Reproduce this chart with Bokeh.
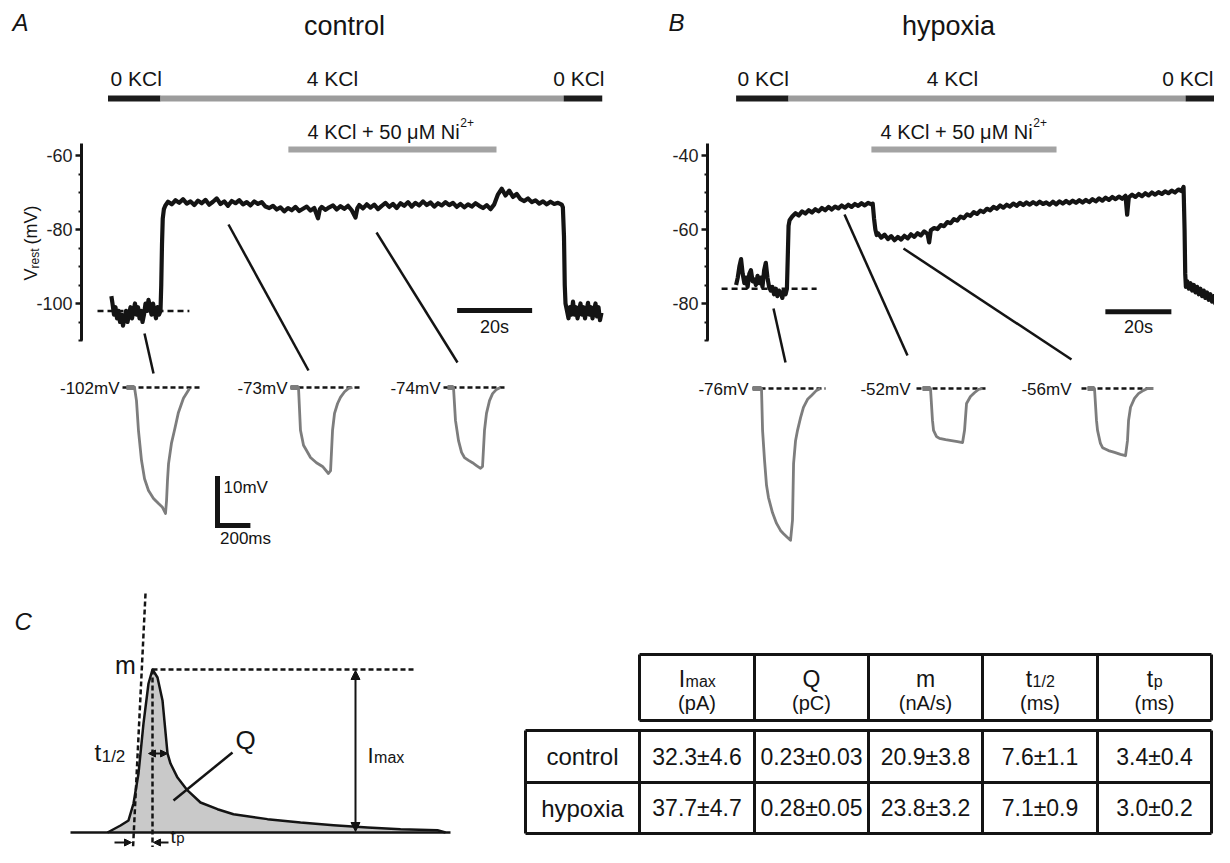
import math
from bokeh.plotting import figure
from bokeh.models import Range1d, LinearAxis, FixedTicker, Arrow, NormalHead
from bokeh.core.properties import value
from bokeh.embed import file_html
from bokeh.resources import INLINE

# ======================= DATA =======================
panel_titles = ["control", "hypoxia"]
panel_letters = ["A", "B", "C"]
solution_labels = ["0 KCl", "4 KCl", "0 KCl"]
nickel_label = "4 KCl + 50 \u03bcM Ni"
nickel_sup = "2+"

# solution change times (s): start, 0->4 KCl, 4->0 KCl, end
sol_A = [0.0, 14.0, 121.5, 131.8]
sol_B = [0.0, 15.9, 136.2, 147.1]
ni_A = [48.1, 103.6]
ni_B = [41.0, 97.1]

yticks_A = [-100, -80, -60]
yminor_A = [-110, -105, -95, -90, -85, -75, -70, -65]
yticks_B = [-80, -60, -40]
yminor_B = [-90, -85, -75, -70, -65, -55, -50, -45]

# resting potential traces (time s, Vrest mV)
traceA = [(0.9, -98), (1.2, -100), (1.6, -103), (2.0, -101), (2.4, -104), (2.8, -102), (3.2, -105),
          (3.6, -103), (4.0, -106), (4.4, -104), (4.8, -102), (5.2, -105), (5.6, -103), (6.0, -101),
          (6.4, -104), (6.8, -102), (7.2, -100), (7.6, -103), (8.0, -101), (8.4, -104), (8.8, -102),
          (9.2, -105), (9.6, -103), (10.0, -100), (10.4, -102), (10.8, -99), (11.2, -101), (11.6, -103),
          (12.0, -100), (12.4, -102), (12.8, -104), (13.2, -101), (13.6, -103), (14.0, -102),
          (14.2, -95), (14.4, -84), (14.6, -77), (14.9, -74.5), (15.3, -73.5),
          (16, -72.5), (17, -73.2), (18, -72.1), (19, -72.8), (20, -71.8), (21, -73.0), (22, -72.4),
          (23, -73.4), (24, -72.2), (25, -72.9), (26, -72.0), (27, -73.3), (28, -72.5), (29, -71.6),
          (30, -73.1), (31, -72.4), (32, -73.6), (33, -72.3), (34, -72.9), (35, -72.1), (36, -73.2),
          (37, -72.6), (38, -73.5), (39, -72.4), (40, -73.1), (41, -72.6), (42, -73.8), (43, -74.2),
          (44, -73.6), (45, -74.6), (46, -74.0), (47, -75.1), (48, -74.2), (49, -74.8), (50, -73.9),
          (51, -75.0), (52, -74.4), (53, -73.8), (54, -74.9), (55, -74.2), (56, -77.0), (56.5, -74.5),
          (57, -73.9), (58, -74.7), (59, -74.0), (60, -73.5), (61, -74.6), (62, -73.7), (63, -74.4),
          (64, -73.6), (65, -74.8), (66, -76.8), (66.5, -74.2), (67, -73.4), (68, -74.3), (69, -73.2),
          (70, -74.1), (71, -73.3), (72, -74.5), (73, -73.6), (74, -72.8), (75, -73.9), (76, -73.1),
          (77, -74.2), (78, -72.9), (79, -73.6), (80, -72.6), (81, -73.8), (82, -72.8), (83, -73.5),
          (84, -72.4), (85, -73.4), (86, -72.7), (87, -73.8), (88, -72.9), (89, -73.5), (90, -72.6),
          (91, -73.4), (92, -72.8), (93, -73.9), (94, -73.1), (95, -74.0), (96, -73.2), (97, -73.8),
          (98, -72.9), (99, -73.6), (100, -74.2), (101, -73.4), (102, -74.5), (103, -73.2),
          (104, -70.5), (105, -69.0), (106, -70.8), (107, -69.5), (108, -71.2), (109, -70.4),
          (110, -71.8), (111, -72.3), (112, -71.6), (113, -72.6), (114, -72.1), (115, -73.0),
          (116, -72.4), (117, -73.2), (118, -72.5), (119, -73.1), (120, -72.8), (121, -73.3),
          (121.3, -74), (121.6, -82), (121.8, -95), (122.0, -100),
          (122.4, -102), (122.8, -104), (123.2, -101), (123.6, -103), (124.0, -99.5), (124.4, -103),
          (124.8, -101), (125.2, -104), (125.6, -102), (126.0, -100), (126.4, -103), (126.8, -101),
          (127.2, -104), (127.6, -102), (128.0, -99.8), (128.4, -103), (128.8, -101), (129.2, -104),
          (129.6, -102), (130.0, -100), (130.4, -103.5), (130.8, -101), (131.2, -104.5), (131.6, -102.5)]

traceB = [(0.0, -75), (0.5, -73), (1.0, -70), (1.5, -68), (2.0, -72), (2.5, -74.5), (3.0, -73),
          (3.5, -75.5), (4.0, -72), (4.5, -71), (5.0, -74), (5.5, -73.5), (6.0, -75), (6.5, -72.5),
          (7.0, -74.5), (7.5, -73), (8.0, -75.5), (8.5, -71), (9.0, -69), (9.5, -73), (10.0, -75.5),
          (10.5, -76.5), (11.0, -75.5), (11.5, -77.5), (12.0, -76), (12.5, -78), (13.0, -76.5),
          (13.5, -77), (14.0, -78.5), (14.5, -76.5), (15.0, -77.5), (15.4, -76),
          (15.7, -66), (15.9, -59), (16.2, -57.5),
          (17, -56.5), (18, -55.6), (19, -56.2), (20, -55.1), (21, -55.7), (22, -54.8), (23, -55.4),
          (24, -54.5), (25, -55.1), (26, -54.2), (27, -54.8), (28, -53.9), (29, -54.6), (30, -53.8),
          (31, -54.3), (32, -53.5), (33, -54.1), (34, -53.3), (35, -53.9), (36, -53.1), (37, -53.6),
          (38, -52.9), (39, -53.5), (40, -52.8), (41, -53.2), (41.4, -53.0),
          (41.8, -57), (42.2, -60), (42.6, -61.5),
          (43, -61.0), (44, -62.2), (45, -61.4), (46, -62.6), (47, -61.8), (48, -62.9), (49, -62.0),
          (50, -62.7), (51, -61.7), (52, -62.4), (53, -61.3), (54, -62.0), (55, -61.0), (56, -61.6),
          (57, -60.5), (58, -61.2), (58.5, -63.5), (59, -60.2), (60, -59.6), (61, -59.9), (62, -58.8),
          (63, -59.1), (64, -58.0), (65, -58.3), (66, -57.2), (67, -57.6), (68, -56.5), (69, -56.9),
          (70, -55.9), (71, -56.3), (72, -55.3), (73, -55.8), (74, -54.9), (75, -55.3), (76, -54.4),
          (77, -54.8), (78, -53.9), (79, -54.4), (80, -53.5), (81, -54.1), (82, -53.3), (83, -53.8),
          (84, -53.0), (85, -53.6), (86, -52.8), (87, -53.4), (88, -52.7), (89, -53.3), (90, -52.6),
          (91, -53.2), (92, -52.5), (93, -53.1), (94, -52.7), (95, -53.3), (96, -52.5), (97, -53.2),
          (98, -52.4), (99, -53.0), (100, -52.3), (101, -52.9), (102, -52.2), (103, -52.8),
          (104, -52.1), (105, -52.7), (106, -52.0), (107, -52.6), (108, -51.8), (109, -52.4),
          (110, -51.6), (111, -52.2), (112, -51.4), (113, -52.0), (114, -51.2), (115, -51.8),
          (116, -51.1), (117, -51.7), (118, -50.9), (118.5, -56.0), (119, -51.3), (120, -50.6),
          (121, -51.2), (122, -50.4), (123, -51.0), (124, -50.2), (125, -50.8), (126, -50.0),
          (127, -50.6), (128, -49.9), (129, -50.4), (130, -49.7), (131, -50.2), (132, -49.5),
          (133, -50.0), (134, -49.2), (135, -49.6), (135.6, -48.5),
          (135.9, -60), (136.1, -72), (136.3, -75.5),
          (136.7, -74), (137.2, -76), (137.7, -74.5), (138.2, -76.5), (138.7, -75), (139.2, -77),
          (139.7, -75.5), (140.2, -77.5), (140.7, -76), (141.2, -78), (141.7, -76.5), (142.2, -78.5),
          (142.7, -77), (143.2, -79), (143.7, -77.5), (144.2, -79.5), (144.7, -78), (145.2, -80),
          (145.6, -79)]

# levels marked by dashed lines on the traces (mV)
baseline_A = -102
baseline_B = -76

# insets: rest potential (mV) and voltage response (ms from pulse onset, deflection mV)
rest_A = [-102, -73, -74]
rest_B = [-76, -52, -56]
insA1 = [(-53, 0), (-26, 0.2), (0, 0), (13, -2.8), (26, -9.1), (46, -15.5), (66, -19.4), (92, -21.9),
         (125, -23.6), (158, -24.7), (184, -25.5), (204, -26.8), (211, -24.0), (217, -19.8),
         (224, -16.2), (243, -11.9), (263, -9.1), (289, -5.3), (322, -2.3), (362, -0.2)]
insA2 = [(-53, 0), (-13, 0.2), (0, 0), (13, -9.1), (33, -12.3), (53, -13.4), (79, -14.9), (118, -16.0),
         (158, -16.8), (197, -18.3), (211, -17.7), (224, -9.1), (237, -5.5), (257, -3.4), (276, -2.1),
         (303, -0.9), (329, -0.2), (355, 0)]
insA3 = [(-39, 0), (-13, 0.2), (0, 0), (13, -7.0), (33, -11.3), (53, -13.8), (72, -14.9), (99, -15.5),
         (125, -16.0), (151, -16.6), (178, -17.2), (191, -16.8), (204, -9.1), (217, -5.5), (237, -2.8),
         (257, -1.3), (283, -0.4), (309, 0)]
insB1 = [(-59, 0), (-20, 0.2), (0, 0), (7, -8.9), (20, -15.3), (33, -20.6), (46, -23.2), (72, -26.4),
         (99, -28.7), (125, -30.2), (145, -30.9), (171, -31.7), (191, -32.3), (204, -28.0), (211, -16.0),
         (224, -11.1), (237, -8.9), (257, -6.2), (276, -4.0), (303, -2.3), (329, -1.5), (362, -0.4),
         (388, 0)]
insB2 = [(-53, 0), (-13, 0.2), (0, 0), (13, -6.8), (20, -8.9), (39, -10.2), (59, -10.6), (99, -10.9),
         (138, -11.1), (178, -11.3), (211, -11.5), (224, -8.9), (237, -3.2), (263, -1.7), (289, -0.9),
         (316, -0.2), (342, 0)]
insB3 = [(-46, 0), (-13, 0.2), (0, 0), (13, -6.8), (20, -8.9), (39, -11.7), (53, -12.6), (92, -13.2),
         (132, -13.6), (171, -14.0), (204, -14.3), (217, -11.1), (224, -6.8), (237, -4.0), (263, -2.1),
         (289, -1.1), (322, -0.4), (349, 0), (388, 0)]
scale_s = 20          # s
scale_mV = 10         # mV
scale_ms = 200        # ms

# panel C schematic current (time units, normalised current)
curve_t = [0, 2.6, 4.2, 5.2, 6.2, 7.2, 8.2, 9.0, 10.0, 11.0, 12.0, 12.6, 14.0, 16.0, 18.6, 22.0,
           25.2, 32.0, 38.6, 45.2, 52.0, 58.6, 66.0, 67.6]
curve_i = [0, 0.043, 0.074, 0.178, 0.362, 0.669, 0.914, 1.0, 0.951, 0.810, 0.485, 0.423, 0.337,
           0.258, 0.184, 0.143, 0.112, 0.082, 0.061, 0.045, 0.031, 0.020, 0.014, 0.0]

# table
row_names = ["control", "hypoxia"]
col_symbols = [("I", "max"), ("Q", ""), ("m", ""), ("t", "1/2"), ("t", "p")]
col_units = ["(pA)", "(pC)", "(nA/s)", "(ms)", "(ms)"]
imax = [32.3, 37.7]
imax_sem = [4.6, 4.7]
charge = [0.23, 0.28]
charge_sem = [0.03, 0.05]
slope = [20.9, 23.8]
slope_sem = [3.8, 3.2]
t_half = [7.6, 7.1]
t_half_sem = [1.1, 0.9]
t_peak = [3.4, 3.0]
t_peak_sem = [0.4, 0.2]
decimals = [1, 2, 1, 1, 1]

# ======================= FIGURE =======================
FONT = "Liberation Sans"
W, H = 1214, 847
INK = "#141414"
GREY_TR = "#7d7d7d"

p = figure(width=W, height=H, output_backend="svg", toolbar_location=None,
           x_range=Range1d(0, W), y_range=Range1d(H, 0),
           x_axis_location=None, y_axis_location=None, min_border=0,
           outline_line_color=None, background_fill_color="white", border_fill_color="white")
p.xgrid.visible = False
p.ygrid.visible = False


def xr(px0, ppu):
    return Range1d((0 - px0) / ppu, (W - px0) / ppu)


def yr(py0, ppu, v0=0.0):
    return Range1d(v0 - (H - py0) / ppu, v0 + py0 / ppu)


INS_PX_MS = 30.4 / 200.0
INS_PX_MV = 47.0 / 10.0
onset_A = [134, 298, 453]
onset_B = [761, 930, 1094]
ins_base_y = [387, 388]

xranges = {"tA": xr(107.5, 3.75), "tB": xr(735.6, 3.3), "sbx": xr(217, INS_PX_MS), "ct": xr(107, 5.0)}
yranges = {"vA": yr(155, 3.7, -60), "vB": yr(155, 3.7, -40), "sby": yr(525, INS_PX_MV, 0),
           "ci": yr(832, 163.0, 0)}
for i in range(3):
    xranges[f"iA{i}x"] = xr(onset_A[i], INS_PX_MS)
    yranges[f"iA{i}y"] = yr(ins_base_y[0], INS_PX_MV, rest_A[i])
    xranges[f"iB{i}x"] = xr(onset_B[i], INS_PX_MS)
    yranges[f"iB{i}y"] = yr(ins_base_y[1], INS_PX_MV, rest_B[i])
p.extra_x_ranges = xranges
p.extra_y_ranges = yranges

AW = {' ': .278, 'K': .667, 'C': .722, 'l': .222, '+': .584, '\u03bc': .576, 'M': .833, 'N': .722,
      'i': .222, 'I': .278, 'm': .833, 'a': .556, 'x': .5, 't': .278, 'p': .556, '/': .278,
      'Q': .778, 'V': .667, 'r': .333, 'e': .556, 's': .5, '(': .333, ')': .333}


def tw(s, size):
    return sum(AW.get(c, 0.556) for c in s) * size


def txt(x, y, s, size, align="center", style="normal", angle=0.0, color=INK, xn="default", yn="default"):
    p.text(x=[x], y=[y], text=[s], text_font=value(FONT), text_font_size=value(f"{size}px"),
           text_align=align, text_baseline="middle", text_font_style=style, angle=angle,
           text_color=color, x_range_name=xn, y_range_name=yn)


def subtext(cx, yc, main, sub, size, subsize, dy, center=True):
    """main text with a smaller sub/superscript; yc is the vertical middle of main text"""
    total = tw(main, size) + tw(sub, subsize)
    x = cx - total / 2 if center else cx
    txt(x, yc, main, size, align="left")
    if sub:
        txt(x + tw(main, size) + 0.5, yc + 0.35 * (size - subsize) + dy, sub, subsize, align="left")


# ---------- panel letters & titles ----------
for s, x, y in zip(panel_letters, [12, 668, 14], [22, 22, 621]):
    txt(x, y, s, 24, align="left", style="italic")
for s, x in zip(panel_titles, [344, 948]):
    txt(x, 25, s, 27)

# ---------- solution bars ----------
for tn, sol, ni, nicx, lab_x, lab_al in [
        ("tA", sol_A, ni_A, 390, [110, 332, 604], ["left", "center", "right"]),
        ("tB", sol_B, ni_B, 963, [737, 952, 1213], ["left", "center", "right"])]:
    cols = ["#1c1c1c", "#9c9c9c", "#1c1c1c"]
    for k in range(3):
        p.segment(x0=[sol[k]], x1=[sol[k + 1]], y0=[98], y1=[98], line_color=cols[k], line_width=6,
                  x_range_name=tn)
        txt(lab_x[k], 78, solution_labels[k], 21, align=lab_al[k])
    p.segment(x0=[ni[0]], x1=[ni[1]], y0=[149], y1=[149], line_color="#a3a3a3", line_width=6,
              x_range_name=tn)
    subtext(nicx, 131, nickel_label, nickel_sup, 20, 12, -12)

# ---------- traces ----------
for tn, vn, tr, base, dash_t in [("tA", "vA", traceA, baseline_A, (-2.8, 21.7)),
                                  ("tB", "vB", traceB, baseline_B, (-4.4, 24.4))]:
    p.line([a for a, b in tr], [b for a, b in tr], line_color=INK, line_width=4.2,
           line_join="round", x_range_name=tn, y_range_name=vn)
    p.segment(x0=[dash_t[0]], x1=[dash_t[1]], y0=[base], y1=[base], line_color=INK, line_width=2.5,
              line_dash="6 4", x_range_name=tn, y_range_name=vn)

# 20 s scale bars
for tn, vn, t0, v0, lx in [("tA", "vA", 93.1, -101.9, 494), ("tB", "vB", 111.9, -82.2, 1138)]:
    p.segment(x0=[t0], x1=[t0 + scale_s], y0=[v0], y1=[v0], line_color=INK, line_width=5,
              x_range_name=tn, y_range_name=vn)
    txt(lx, 326, f"{scale_s}s", 18)

# ---------- y axes ----------
for vn, loc, ticks, minors, bnds in [("vA", 81, yticks_A, yminor_A, (-110, -56.8)),
                                     ("vB", 707, yticks_B, yminor_B, (-90, -36.8))]:
    ax = LinearAxis(y_range_name=vn, fixed_location=loc, bounds=bnds,
                    ticker=FixedTicker(ticks=ticks, minor_ticks=minors),
                    major_label_overrides={t: str(t) for t in ticks},
                    axis_line_width=3, axis_line_color=INK,
                    major_tick_line_width=2.5, major_tick_line_color=INK, major_tick_out=6, major_tick_in=0,
                    minor_tick_line_width=2, minor_tick_line_color=INK, minor_tick_out=3, minor_tick_in=1,
                    major_label_text_font=FONT, major_label_text_font_size="18px",
                    major_label_text_color="#222222", major_label_standoff=3)
    p.add_layout(ax, "left")

# Vrest (mV) label (rotated)
ang = math.pi / 2
txt(30, 280, "V", 18, align="left", angle=ang)
txt(34, 268, "rest", 12, align="left", angle=ang)
txt(30, 244, "(mV)", 18, align="left", angle=ang)

# ---------- connector lines ----------
conn = [((144, 333), (153, 373)), ((228, 224), (308, 370)), ((376, 232), (457, 362)),
        ((773, 308), (785, 362)), ((844, 214), (907, 355)), ((903, 248), (1071, 359))]
p.segment(x0=[a[0] for a, b in conn], y0=[a[1] for a, b in conn],
          x1=[b[0] for a, b in conn], y1=[b[1] for a, b in conn], line_color=INK, line_width=2.5)

# ---------- insets ----------
dash_px = {"A": [(122, 202), (290, 360), (443, 506)], "B": [(752, 825), (916, 986), (1081, 1153)]}
label_px = {"A": [119, 287, 440], "B": [748, 910, 1071]}
for key, rests, onsets, data, by in [("A", rest_A, onset_A, [insA1, insA2, insA3], ins_base_y[0]),
                                     ("B", rest_B, onset_B, [insB1, insB2, insB3], ins_base_y[1])]:
    for i in range(3):
        xn, yn = f"i{key}{i}x", f"i{key}{i}y"
        d0, d1 = dash_px[key][i]
        p.segment(x0=[(d0 - onsets[i]) / INS_PX_MS], x1=[(d1 - onsets[i]) / INS_PX_MS],
                  y0=[rests[i]], y1=[rests[i]], line_color=INK, line_width=2.5, line_dash="5 3",
                  x_range_name=xn, y_range_name=yn)
        tr = data[i]
        p.line([a for a, b in tr], [rests[i] + b for a, b in tr], line_color=GREY_TR, line_width=2.8,
               line_join="round", x_range_name=xn, y_range_name=yn)
        p.line([tr[0][0], tr[2][0]], [rests[i], rests[i]], line_color=GREY_TR, line_width=5,
               x_range_name=xn, y_range_name=yn)
        txt(label_px[key][i], by + 1, f"{rests[i]}mV", 17, align="right")

# inset scale bar
p.segment(x0=[0, 0], y0=[0, 0], x1=[0, scale_ms], y1=[scale_mV, 0], line_color=INK, line_width=5,
          line_cap="square", x_range_name="sbx", y_range_name="sby")
txt(223, 487, f"{scale_mV}mV", 17, align="left")
txt(245, 538, f"{scale_ms}ms", 17)

# ---------- panel C ----------
p.varea(x=curve_t, y1=[0] * len(curve_t), y2=curve_i, fill_color="#c9c9c9",
        x_range_name="ct", y_range_name="ci")
p.segment(x0=[70], x1=[450], y0=[832], y1=[832], line_color=INK, line_width=2.5)
p.line(curve_t, curve_i, line_color=INK, line_width=2.5, line_join="round",
       x_range_name="ct", y_range_name="ci")
k_pk = curve_i.index(max(curve_i))
t_pk, i_pk = curve_t[k_pk], curve_i[k_pk]
p.segment(x0=[t_pk, t_pk, 7.6], x1=[t_pk, 61.2, 5.0], y0=[i_pk, i_pk, 1.466], y1=[-0.16, i_pk, -0.16],
          line_color=INK, line_width=2.5, line_dash="5 3", x_range_name="ct", y_range_name="ci")
# Q pointer
p.segment(x0=[232], y0=[752], x1=[173], y1=[800], line_color=INK, line_width=2.5)


def arrow(x0, y0, x1, y1, both=False, size=8):
    head = dict(size=size, fill_color=INK, line_color=INK, line_width=1)
    p.add_layout(Arrow(x_start=x0, y_start=y0, x_end=x1, y_end=y1,
                       start=NormalHead(**head) if both else None, end=NormalHead(**head),
                       line_color=INK, line_width=2))


arrow(355, 670, 355, 831, both=True, size=9)
arrow(148, 753, 167, 753, both=True, size=7)
arrow(114, 842, 131, 842, size=7)
arrow(168, 842, 153, 842, size=7)

txt(125, 664, "m", 25)
txt(245, 739, "Q", 26)
subtext(367, 755, "I", "max", 22, 16, 0, center=False)
subtext(94, 752, "t", "1/2", 24, 17, 2, center=False)
subtext(170, 836, "t", "p", 19, 15, 0, center=False)

# ---------- table ----------
colx = [639, 754, 868, 982, 1097, 1211]
hdr_top, hdr_bot = 654, 720
tb_top, tb_mid, tb_bot = 730, 782, 833
tb_left = 525
p.segment(x0=[colx[0], colx[0]], x1=[colx[-1], colx[-1]], y0=[hdr_top, hdr_bot], y1=[hdr_top, hdr_bot],
          line_color=INK, line_width=3)
p.segment(x0=colx, x1=colx, y0=[hdr_top] * 6, y1=[hdr_bot] * 6, line_color=INK, line_width=3)
p.segment(x0=[tb_left] * 3, x1=[colx[-1]] * 3, y0=[tb_top, tb_mid, tb_bot], y1=[tb_top, tb_mid, tb_bot],
          line_color=INK, line_width=3)
p.segment(x0=[tb_left] + colx, x1=[tb_left] + colx, y0=[tb_top] * 7, y1=[tb_bot] * 7,
          line_color=INK, line_width=3)

centers = [(colx[k] + colx[k + 1]) / 2 for k in range(5)]
for k, ((sym, sub), unit) in enumerate(zip(col_symbols, col_units)):
    subtext(centers[k], 678, sym, sub, 23, 16, 1)
    txt(centers[k], 702, unit, 20)

cols = [(imax, imax_sem), (charge, charge_sem), (slope, slope_sem), (t_half, t_half_sem),
        (t_peak, t_peak_sem)]
row_y = [(tb_top + tb_mid) / 2, (tb_mid + tb_bot) / 2]
for r, name in enumerate(row_names):
    txt((tb_left + colx[0]) / 2, row_y[r], name, 24)
    for k, (mean, sem) in enumerate(cols):
        d = decimals[k]
        txt(centers[k], row_y[r], f"{mean[r]:.{d}f}\u00b1{sem[r]:.{d}f}", 23)

open("out.html", "w").write(file_html(p, INLINE))
